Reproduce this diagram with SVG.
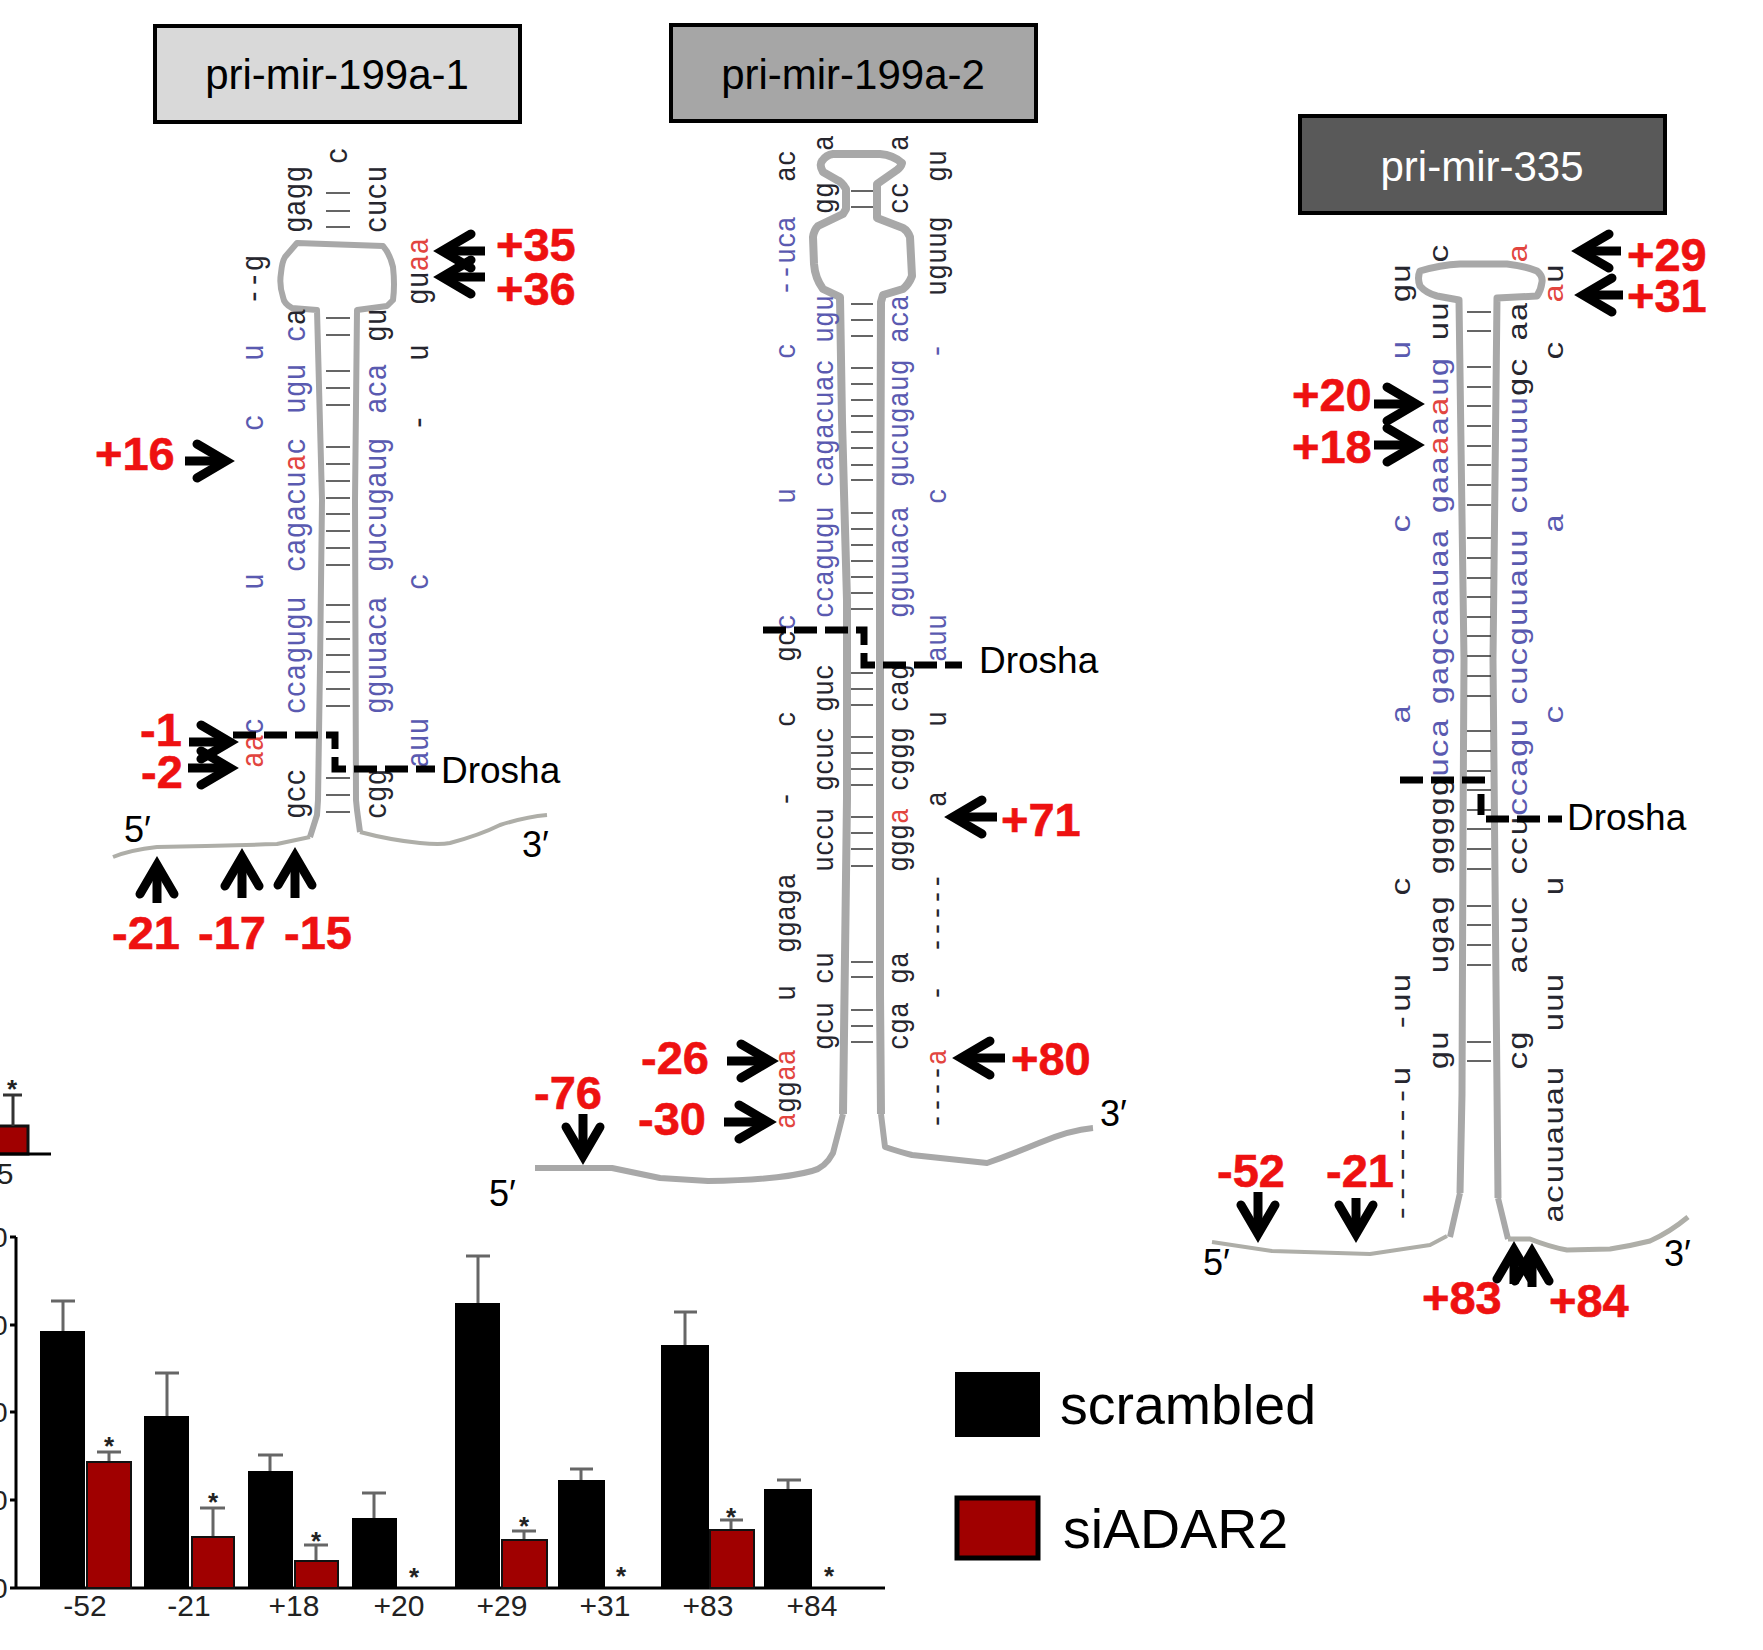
<svg xmlns="http://www.w3.org/2000/svg" width="1763" height="1650" viewBox="0 0 1763 1650">
<defs>
<style>
text{font-family:"Liberation Sans",Arial,sans-serif}
.title{font-size:42px;text-anchor:middle}
.m text{font-family:"Liberation Mono","Courier New",monospace;fill:#26262e}
.p1 text{font-size:28px}.p2 text{font-size:26.6px}.p3 text{font-size:32.6px}
.m .b,.b{fill:#5a5ab0}.m .r,.r{fill:#e2453f}.m .k,.k{fill:#26262e}
.lab{font-size:47px;font-weight:700;fill:#ee1111;stroke:#ee1111;stroke-width:.6}
.dro{font-size:37px;fill:#000}
.end{font-size:36px;fill:#000}
.wall{fill:none;stroke:#a8a8a8;stroke-linejoin:round}
.base{fill:none;stroke:#aeaea8;stroke-width:4;stroke-linejoin:round}
.pair{fill:none;stroke:#333;stroke-width:1.6}
.arr{stroke:#000;stroke-width:9;fill:none;marker-end:url(#ah)}
.cut{stroke:#000;stroke-width:7;fill:none;stroke-dasharray:23 8}
.bk{fill:#000}.rd{fill:#a00000;stroke:#111;stroke-width:2}
.err{stroke:#666;stroke-width:3;fill:none}
.axis{stroke:#000;stroke-width:3;fill:none}
.xl{font-size:30px;text-anchor:middle;fill:#222}
.st{font-size:26px;font-weight:700;text-anchor:middle;fill:#222}
.leg{font-size:55.5px;fill:#000}
</style>
<marker id="ah" markerUnits="userSpaceOnUse" markerWidth="70" markerHeight="70" viewBox="-35 -35 70 70" refX="0" refY="0" orient="auto">
<path d="M-24 -17L5 0L-24 17" fill="none" stroke="#000" stroke-width="9" stroke-linecap="round"/>
</marker>
</defs>
<rect width="1763" height="1650" fill="#fff"/>

<g id="title-1"><rect x="155" y="26" width="365" height="96" fill="#d9d9d9" stroke="#000" stroke-width="4"/><text class="title" x="337" y="89">pri-mir-199a-1</text></g>
<g id="title-2"><rect x="671" y="25" width="365" height="96" fill="#a6a6a6" stroke="#000" stroke-width="4"/><text class="title" x="853" y="89">pri-mir-199a-2</text></g>
<g id="title-3"><rect x="1300" y="116" width="365" height="97" fill="#595959" stroke="#000" stroke-width="4"/><text class="title" x="1482" y="181" fill="#fff">pri-mir-335</text></g>

<g id="hairpin-1">
<path class="wall" stroke-width="6" d="M310 837L317 815L318 800L320 667L322 500L317 310L292 308Q284 304 283 297Q279 285 281 273Q282 262 285 257L297 243L383 246Q390 254 393 267Q395 285 393 300L387 306L357 310L355 500L356 800L357 810L360 832"/>
<path class="base" d="M310 837L277 844Q215 846 157 847Q130 850 113 857"/>
<path class="base" d="M360 832Q390 840 420 843Q440 845 450 843Q480 835 500 825Q525 817 547 815"/>
<path class="pair" d="M326 193H350M326 211H350M326 227H350M326 318H350M326 335H350M326 371H350M326 388H350M326 405H350M326 447H350M326 464H350M326 481H350M326 498H350M326 514H350M326 531H350M326 548H350M326 565H350M326 605H350M326 622H350M326 639H350M326 655H350M326 672H350M326 689H350M326 706H350M326 778H350M326 795H350M326 812H350"/>
<g class="m p1">
<text transform="translate(305 233) rotate(-90) scale(1 1.13)">gagg</text>
<text transform="translate(386 233) rotate(-90) scale(1 1.13)">cucu</text>
<text transform="translate(347 164) rotate(-90) scale(1 1.13)">c</text>
<text transform="translate(263 305) rotate(-90) scale(1 1.13)">--g</text>
<text transform="translate(428 305) rotate(-90) scale(1 1.13)">gu<tspan class="r">aa</tspan></text>
<text transform="translate(305 342) rotate(-90) scale(1 1.13)"><tspan class="b">c</tspan>a</text>
<text transform="translate(386 342) rotate(-90) scale(1 1.13)">gu</text>
<text class="b" transform="translate(263 361) rotate(-90) scale(1 1.13)">u</text>
<text transform="translate(428 361) rotate(-90) scale(1 1.13)">u</text>
<text class="b" transform="translate(305 414) rotate(-90) scale(1 1.13)">ugu</text>
<text class="b" transform="translate(386 414) rotate(-90) scale(1 1.13)">aca</text>
<text class="b" transform="translate(263 431) rotate(-90) scale(1 1.13)">c</text>
<text transform="translate(428 431) rotate(-90) scale(1 1.13)">-</text>
<text class="b" transform="translate(305 572) rotate(-90) scale(1 1.13)">cagacu<tspan class="r">a</tspan>c</text>
<text class="b" transform="translate(386 572) rotate(-90) scale(1 1.13)">gucugaug</text>
<text class="b" transform="translate(263 590) rotate(-90) scale(1 1.13)">u</text>
<text class="b" transform="translate(428 590) rotate(-90) scale(1 1.13)">c</text>
<text class="b" transform="translate(305 714) rotate(-90) scale(1 1.13)">ccagugu</text>
<text class="b" transform="translate(386 714) rotate(-90) scale(1 1.13)">gguuaca</text>
<text transform="translate(263 768) rotate(-90) scale(1 1.13)"><tspan class="r">aa</tspan><tspan class="b">c</tspan></text>
<text class="b" transform="translate(428 768) rotate(-90) scale(1 1.13)">auu</text>
<text transform="translate(305 819) rotate(-90) scale(1 1.13)">gcc</text>
<text transform="translate(386 819) rotate(-90) scale(1 1.13)">cgg</text>
</g>
<text class="end" x="124" y="842">5′</text><text class="end" x="522" y="857">3′</text>
</g>

<g id="hairpin-2">
<path class="wall" stroke-width="8" d="M843 1114L845 956L847 798L847 600L842 421L840 297L823 289Q815 278 814 264L813 237Q814 230 818 226L843 214L846 209L846 189Q842 182 837 180L823 172Q819 165 822 161Q826 155 833 154L880 154Q893 155 902 163Q901 167 897 170L877 184L877 218L903 228Q908 231 910 237L912 276Q909 284 903 289L883 295L881 302L880 600L880 995L881 1114"/>
<path class="base" style="stroke-width:6;stroke:#a8a8a8" d="M843 1114L839 1130L833 1153Q825 1168 812 1171Q780 1180 708 1181L660 1178L612 1168H535"/>
<path class="base" style="stroke-width:6;stroke:#a8a8a8" d="M881 1114L885 1147Q900 1152 912 1155L987 1163Q1010 1155 1039 1143Q1070 1130 1093 1128"/>
<path class="pair" d="M851 191H873M851 207H873M851 304H873M851 320H873M851 336H873M851 368H873M851 384H873M851 400H873M851 416H873M851 432H873M851 448H873M851 465H873M851 480H873M851 513H873M851 529H873M851 545H873M851 561H873M851 577H873M851 593H873M851 609H873M851 673H873M851 689H873M851 705H873M851 737H873M851 753H873M851 769H873M851 785H873M851 817H873M851 833H873M851 849H873M851 866H873M851 962H873M851 977H873M851 1010H873M851 1026H873M851 1042H873"/>
<g class="m p2">
<text transform="translate(833 151) rotate(-90) scale(1 1.13)">a</text>
<text transform="translate(908 151) rotate(-90) scale(1 1.13)">a</text>
<text transform="translate(795 182) rotate(-90) scale(1 1.13)">ac</text>
<text transform="translate(946 182) rotate(-90) scale(1 1.13)">gu</text>
<text transform="translate(833 214) rotate(-90) scale(1 1.13)">gg</text>
<text transform="translate(908 214) rotate(-90) scale(1 1.13)">cc</text>
<text class="b" transform="translate(795 296) rotate(-90) scale(1 1.13)">--uca</text>
<text transform="translate(946 296) rotate(-90) scale(1 1.13)">uguug</text>
<text class="b" transform="translate(833 343) rotate(-90) scale(1 1.13)">ugu</text>
<text class="b" transform="translate(908 343) rotate(-90) scale(1 1.13)">aca</text>
<text class="b" transform="translate(795 359) rotate(-90) scale(1 1.13)">c</text>
<text class="b" transform="translate(946 359) rotate(-90) scale(1 1.13)">-</text>
<text class="b" transform="translate(833 487) rotate(-90) scale(1 1.13)">cagacuac</text>
<text class="b" transform="translate(908 487) rotate(-90) scale(1 1.13)">gucugaug</text>
<text class="b" transform="translate(795 504) rotate(-90) scale(1 1.13)">u</text>
<text class="b" transform="translate(946 504) rotate(-90) scale(1 1.13)">c</text>
<text class="b" transform="translate(833 618) rotate(-90) scale(1 1.13)">ccagugu</text>
<text class="b" transform="translate(908 618) rotate(-90) scale(1 1.13)">gguuaca</text>
<text transform="translate(795 662) rotate(-90) scale(1 1.13)">gc<tspan class="b">c</tspan></text>
<text class="b" transform="translate(946 662) rotate(-90) scale(1 1.13)">auu</text>
<text transform="translate(833 712) rotate(-90) scale(1 1.13)">guc</text>
<text transform="translate(908 712) rotate(-90) scale(1 1.13)">cag</text>
<text transform="translate(795 727) rotate(-90) scale(1 1.13)">c</text>
<text transform="translate(946 727) rotate(-90) scale(1 1.13)">u</text>
<text transform="translate(833 791) rotate(-90) scale(1 1.13)">gcuc</text>
<text transform="translate(908 791) rotate(-90) scale(1 1.13)">cggg</text>
<text transform="translate(795 807) rotate(-90) scale(1 1.13)">-</text>
<text transform="translate(946 807) rotate(-90) scale(1 1.13)">a</text>
<text transform="translate(833 872) rotate(-90) scale(1 1.13)">uccu</text>
<text transform="translate(908 872) rotate(-90) scale(1 1.13)">ggg<tspan class="r">a</tspan></text>
<text transform="translate(795 953) rotate(-90) scale(1 1.13)">ggaga</text>
<text transform="translate(946 953) rotate(-90) scale(1 1.13)">-----</text>
<text transform="translate(833 984) rotate(-90) scale(1 1.13)">cu</text>
<text transform="translate(908 984) rotate(-90) scale(1 1.13)">ga</text>
<text transform="translate(795 1001) rotate(-90) scale(1 1.13)">u</text>
<text transform="translate(946 1001) rotate(-90) scale(1 1.13)">-</text>
<text transform="translate(833 1050) rotate(-90) scale(1 1.13)">gcu</text>
<text transform="translate(908 1050) rotate(-90) scale(1 1.13)">cga</text>
<text transform="translate(795 1129) rotate(-90) scale(1 1.13)"><tspan class="r">a</tspan>gg<tspan class="r">aa</tspan></text>
<text transform="translate(946 1129) rotate(-90) scale(1 1.13)">----<tspan class="r">a</tspan></text>
</g>
<text class="end" x="489" y="1206">5′</text><text class="end" x="1100" y="1126">3′</text>
</g>

<g id="hairpin-3">
<path class="wall" stroke-width="7" d="M1460 1193L1462 1094L1463 833L1464 660L1459 300L1437 296Q1426 293 1420 286Q1417 278 1420 271Q1440 265 1460 264L1507 264Q1525 266 1537 271Q1543 276 1542 282Q1541 290 1537 296L1497 298L1493 660L1495 877L1498 1198"/>
<path class="wall" stroke-width="6" d="M1460 1193L1450 1237M1498 1198L1508 1239"/>
<path class="base" d="M1447 1236L1430 1245L1370 1254L1272 1251L1212 1242"/>
<path class="base" style="stroke-width:5" d="M1508 1239L1530 1239Q1550 1247 1567 1250L1610 1249Q1630 1246 1650 1241Q1670 1232 1688 1217"/>
<path class="pair" d="M1467 312H1491M1467 331H1491M1467 367H1491M1467 387H1491M1467 406H1491M1467 426H1491M1467 446H1491M1467 465H1491M1467 485H1491M1467 505H1491M1467 538H1491M1467 558H1491M1467 578H1491M1467 597H1491M1467 617H1491M1467 636H1491M1467 656H1491M1467 676H1491M1467 696H1491M1467 731H1491M1467 751H1491M1467 771H1491M1467 790H1491M1467 810H1491M1467 829H1491M1467 849H1491M1467 869H1491M1467 906H1491M1467 925H1491M1467 945H1491M1467 965H1491M1467 1042H1491M1467 1061H1491"/>
<g class="m p3">
<text transform="translate(1448 263) rotate(-90) scale(1 .87)">c</text>
<text class="r" transform="translate(1527 263) rotate(-90) scale(1 .87)">a</text>
<text transform="translate(1410 303) rotate(-90) scale(1 .87)">gu</text>
<text transform="translate(1563 303) rotate(-90) scale(1 .87)"><tspan class="r">a</tspan>u</text>
<text transform="translate(1448 341) rotate(-90) scale(1 .87)">uu</text>
<text transform="translate(1527 341) rotate(-90) scale(1 .87)">aa</text>
<text class="b" transform="translate(1410 360) rotate(-90) scale(1 .87)">u</text>
<text transform="translate(1563 360) rotate(-90) scale(1 .87)">c</text>
<text class="b" transform="translate(1448 514) rotate(-90) scale(1 .87)">gaa<tspan class="r">a</tspan>a<tspan class="r">a</tspan>ug</text>
<text transform="translate(1527 514) rotate(-90) scale(1 .87)"><tspan class="b">cuuuuu</tspan>gc</text>
<text class="b" transform="translate(1410 533) rotate(-90) scale(1 .87)">c</text>
<text class="b" transform="translate(1563 533) rotate(-90) scale(1 .87)">a</text>
<text class="b" transform="translate(1448 705) rotate(-90) scale(1 .87)">gagcaauaa</text>
<text class="b" transform="translate(1527 705) rotate(-90) scale(1 .87)">cucguuauu</text>
<text class="b" transform="translate(1410 724) rotate(-90) scale(1 .87)">a</text>
<text class="b" transform="translate(1563 724) rotate(-90) scale(1 .87)">c</text>
<text transform="translate(1448 875) rotate(-90) scale(1 .87)">ggggg<tspan class="b">uca</tspan></text>
<text transform="translate(1527 875) rotate(-90) scale(1 .87)">ccu<tspan class="b">ccagu</tspan></text>
<text transform="translate(1410 896) rotate(-90) scale(1 .87)">c</text>
<text transform="translate(1563 896) rotate(-90) scale(1 .87)">u</text>
<text transform="translate(1448 974) rotate(-90) scale(1 .87)">ugag</text>
<text transform="translate(1527 974) rotate(-90) scale(1 .87)">acuc</text>
<text transform="translate(1410 1032) rotate(-90) scale(1 .87)">-uu</text>
<text transform="translate(1563 1032) rotate(-90) scale(1 .87)">uuu</text>
<text transform="translate(1448 1070) rotate(-90) scale(1 .87)">gu</text>
<text transform="translate(1527 1070) rotate(-90) scale(1 .87)">cg</text>
<text transform="translate(1410 1223) rotate(-90) scale(1 .87)">-------u</text>
<text transform="translate(1563 1223) rotate(-90) scale(1 .87)">acuuauau</text>
</g>
<text class="end" x="1203" y="1275">5′</text><text class="end" x="1664" y="1266">3′</text>
</g>

<g id="connectors">
<path class="cut" d="M233 735H335V769H435"/>
<path class="cut" d="M763 630H864V665H962"/>
<path class="cut" d="M1400 780H1485"/><path class="cut" style="stroke-dasharray:none" d="M1481 794V815"/><path class="cut" d="M1486 819H1562"/>
<line class="arr" x1="485" y1="251" x2="447" y2="251"/>
<line class="arr" x1="485" y1="277" x2="447" y2="277"/>
<line class="arr" x1="185" y1="461" x2="221" y2="461"/>
<line class="arr" x1="189" y1="742" x2="225" y2="742"/>
<line class="arr" x1="188" y1="768" x2="225" y2="768"/>
<line class="arr" x1="157" y1="903" x2="157" y2="870"/>
<line class="arr" x1="242" y1="898" x2="242" y2="862"/>
<line class="arr" x1="295" y1="898" x2="295" y2="861"/>
<line class="arr" x1="727" y1="1061" x2="765" y2="1061"/>
<line class="arr" x1="724" y1="1122" x2="763" y2="1122"/>
<line class="arr" x1="583" y1="1114" x2="583" y2="1151"/>
<line class="arr" x1="997" y1="817" x2="958" y2="817"/>
<line class="arr" x1="1005" y1="1058" x2="966" y2="1058"/>
<line class="arr" x1="1621" y1="251" x2="1585" y2="251"/>
<line class="arr" x1="1623" y1="295" x2="1588" y2="295"/>
<line class="arr" x1="1374" y1="404" x2="1411" y2="404"/>
<line class="arr" x1="1374" y1="445" x2="1411" y2="445"/>
<line class="arr" x1="1258" y1="1192" x2="1258" y2="1229"/>
<line class="arr" x1="1356" y1="1198" x2="1356" y2="1229"/>
<line class="arr" x1="1514" y1="1284" x2="1514" y2="1255"/>
<line class="arr" x1="1532" y1="1287" x2="1532" y2="1257"/>
</g>

<g id="labels">
<text class="dro" x="441" y="783">Drosha</text>
<text class="dro" x="979" y="673">Drosha</text>
<text class="dro" x="1567" y="830">Drosha</text>
<text class="lab" x="496" y="261">+35</text>
<text class="lab" x="496" y="305">+36</text>
<text class="lab" x="95" y="470">+16</text>
<text class="lab" x="140" y="746">-1</text>
<text class="lab" x="141" y="788">-2</text>
<text class="lab" x="112" y="949">-21</text>
<text class="lab" x="198" y="949">-17</text>
<text class="lab" x="284" y="949">-15</text>
<text class="lab" x="641" y="1074">-26</text>
<text class="lab" x="638" y="1135">-30</text>
<text class="lab" x="534" y="1109">-76</text>
<text class="lab" x="1001" y="836">+71</text>
<text class="lab" x="1011" y="1075">+80</text>
<text class="lab" x="1627" y="271">+29</text>
<text class="lab" x="1627" y="312">+31</text>
<text class="lab" x="1292" y="411">+20</text>
<text class="lab" x="1292" y="463">+18</text>
<text class="lab" x="1217" y="1187">-52</text>
<text class="lab" x="1326" y="1187">-21</text>
<text class="lab" x="1422" y="1314">+83</text>
<text class="lab" x="1549" y="1317">+84</text>
</g>

<g id="chart-fragment">
<rect x="-3" y="1126" width="31" height="28" class="rd" style="stroke-width:3"/>
<path class="axis" d="M0 1154H51"/>
<path class="err" style="stroke:#333" d="M13 1126V1095M3 1095H22"/>
<text class="st" x="12" y="1098">*</text>
<text class="xl" x="5" y="1184">5</text>
</g>

<g id="chart">
<path class="axis" d="M16 1237V1588M10 1237H16M10 1325H16M10 1412H16M10 1500H16M10 1588H885"/>
<g style="font-size:28px;fill:#222"><text x="-8" y="1247">0</text><text x="-8" y="1335">0</text><text x="-8" y="1422">0</text><text x="-8" y="1510">0</text><text x="-8" y="1598">0</text></g>
<path class="err" d="M63 1331V1301M51 1301H75M109 1462V1452M97 1452H121M167 1416V1373M155 1373H179M213 1537V1508M200 1508H225M270 1471V1455M258 1455H283M316 1561V1545M304 1545H328M374 1518V1493M362 1493H386M478 1303V1256M466 1256H490M524 1540V1531M512 1531H536M581 1480V1469M570 1469H593M685 1345V1312M674 1312H697M731 1530V1520M720 1520H743M788 1489V1480M777 1480H801"/>
<rect class="bk" x="40" y="1331" width="45" height="257"/>
<rect class="rd" x="87" y="1462" width="44" height="126"/>
<rect class="bk" x="144" y="1416" width="45" height="172"/>
<rect class="rd" x="192" y="1537" width="42" height="51"/>
<rect class="bk" x="248" y="1471" width="45" height="117"/>
<rect class="rd" x="295" y="1561" width="43" height="27"/>
<rect class="bk" x="352" y="1518" width="45" height="70"/>
<rect class="bk" x="455" y="1303" width="45" height="285"/>
<rect class="rd" x="502" y="1540" width="45" height="48"/>
<rect class="bk" x="558" y="1480" width="47" height="108"/>
<rect class="bk" x="661" y="1345" width="48" height="243"/>
<rect class="rd" x="710" y="1530" width="44" height="58"/>
<rect class="bk" x="764" y="1489" width="48" height="99"/>
<text class="st" x="109" y="1455">*</text><text class="st" x="213" y="1511">*</text><text class="st" x="316" y="1550">*</text><text class="st" x="414" y="1586">*</text><text class="st" x="524" y="1535">*</text><text class="st" x="621" y="1585">*</text><text class="st" x="731" y="1526">*</text><text class="st" x="829" y="1585">*</text>
<text class="xl" x="85" y="1616">-52</text><text class="xl" x="189" y="1616">-21</text><text class="xl" x="294" y="1616">+18</text><text class="xl" x="399" y="1616">+20</text><text class="xl" x="502" y="1616">+29</text><text class="xl" x="605" y="1616">+31</text><text class="xl" x="708" y="1616">+83</text><text class="xl" x="812" y="1616">+84</text>
</g>

<g id="legend-scrambled"><rect class="bk" x="955" y="1372" width="85" height="65"/><text class="leg" x="1060" y="1424">scrambled</text></g>
<g id="legend-siADAR2"><rect x="957" y="1498" width="81" height="60" fill="#a00000" stroke="#000" stroke-width="5"/><text class="leg" x="1063" y="1548">siADAR2</text></g>
</svg>
